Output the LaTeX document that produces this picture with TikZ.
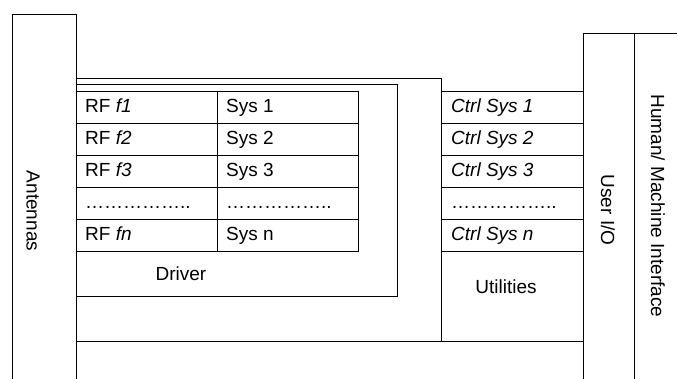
\documentclass[tikz,border=0pt]{standalone}
\usepackage{fontspec}
\setmainfont{Liberation Sans}
\begin{document}
\begin{tikzpicture}[x=1pt,y=-1pt,
  every node/.style={font=\fontsize{19}{21}\selectfont},
  frame/.style={draw, line width=0.9pt, rectangle, inner sep=0pt, anchor=north west},
  cell/.style={frame, minimum height=32pt,
    label={[anchor=base west, inner sep=0pt, xshift=9pt, yshift=-5.5pt]west:#1}},
  rfcell/.style={cell={#1}, minimum width=141pt},
  syscell/.style={cell={#1}, minimum width=141pt},
  ctrlcell/.style={frame, minimum height=32pt, minimum width=142pt,
    label={[anchor=base west, inner sep=0pt, xshift=10pt, yshift=-5.5pt]west:#1}},
  vlabel/.style={rotate=-90}]
\useasboundingbox (0,0) rectangle (677,378);
\begin{scope}
\clip (0,0) rectangle (677,378);
% outer blocks
\node[frame, minimum width=64pt, minimum height=376pt] (ant) at (12,14) {};
\node[frame, minimum width=507pt, minimum height=60pt] (base) at (76,341) {};
\node[frame, minimum width=365pt, minimum height=263pt] (outer) at (76,78) {};
\node[frame, minimum width=321pt, minimum height=212pt] (drv) at (76,84) {};
\node[frame, minimum width=142pt, minimum height=250pt] (util) at (441,91) {};
\node[frame, minimum width=51pt, minimum height=357pt] (uio) at (583,33) {};
\node[frame, minimum width=60pt, minimum height=357pt] (hmi) at (634,33) {};
\end{scope}
% table of RF channels and systems
\node[rfcell={RF \textit{f1}}] (rf1) at (76,91) {};
\node[rfcell={RF \textit{f2}}] (rf2) at (76,123) {};
\node[rfcell={RF \textit{f3}}] (rf3) at (76,155) {};
\node[rfcell={……………..}] (rfd) at (76,187) {};
\node[rfcell={RF \textit{fn}}] (rfn) at (76,219) {};
\node[syscell={Sys 1}] (sys1) at (217,91) {};
\node[syscell={Sys 2}] (sys2) at (217,123) {};
\node[syscell={Sys 3}] (sys3) at (217,155) {};
\node[syscell={……………..}] (sysd) at (217,187) {};
\node[syscell={Sys n}] (sysn) at (217,219) {};
% control systems
\node[ctrlcell={\textit{Ctrl Sys 1}}] (ctl1) at (441,91) {};
\node[ctrlcell={\textit{Ctrl Sys 2}}] (ctl2) at (441,123) {};
\node[ctrlcell={\textit{Ctrl Sys 3}}] (ctl3) at (441,155) {};
\node[ctrlcell={……………..}] (ctld) at (441,187) {};
\node[ctrlcell={\textit{Ctrl Sys n}}] (ctln) at (441,219) {};
% labels
\node (drvlbl) at (181,274) {Driver};
\node (utillbl) at (506,287) {Utilities};
\node[vlabel] (antlbl) at (33,211) {Antennas};
\node[vlabel] (uiolbl) at (608,210) {User I/O};
\node[vlabel] (hmilbl) at (658,206) {Human/ Machine Interface};
\end{tikzpicture}
\end{document}
